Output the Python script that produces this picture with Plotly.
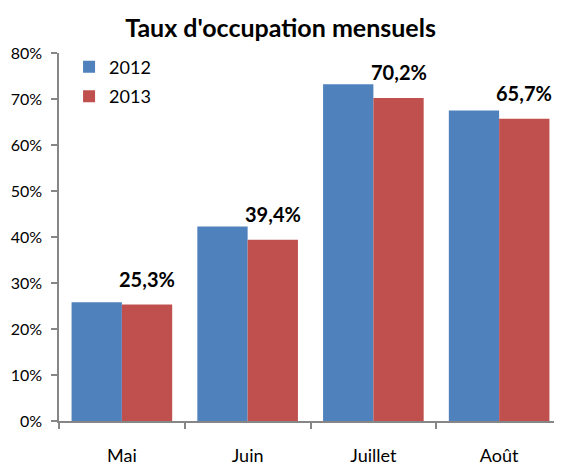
import plotly.graph_objects as go

months = ["Mai", "Juin", "Juillet", "Août"]
series_names = ["2012", "2013"]
values_2012 = [0.258, 0.423, 0.732, 0.675]
values_2013 = [0.253, 0.394, 0.702, 0.657]
y_ticks = [0, 0.1, 0.2, 0.3, 0.4, 0.5, 0.6, 0.7, 0.8]

FONT = "Lato"
fig = go.Figure()
fig.add_trace(go.Bar(x=months, y=values_2012, name=series_names[0], legendgroup="a",
                     marker=dict(color="#4F81BD", line=dict(width=0))))
fig.add_trace(go.Bar(x=months, y=values_2013, name=series_names[1], legendgroup="b",
                     marker=dict(color="#C0504D", line=dict(width=0))))

bargap = 0.2
bar_w = (1 - bargap) / 2
for i, v in enumerate(values_2013):
    fig.add_annotation(x=i + bar_w / 2, y=v, xref="x", yref="y",
                       text="<b>" + f"{v*100:.1f}".replace(".", ",") + "%</b>",
                       showarrow=False, yanchor="bottom", yshift=12,
                       font=dict(family=FONT, size=20, color="black"))

# page body has an 8px margin: figure is sized/offset to compensate
fig.update_layout(
    width=554, height=457,
    margin=dict(l=51, r=0, t=45, b=44),
    paper_bgcolor="white", plot_bgcolor="white",
    barmode="group", bargap=bargap, bargroupgap=0,
    separators=", ",
    title=dict(text="<b>Taux d'occupation mensuels</b>", x=0.492, xanchor="center",
               y=0.955, yanchor="middle",
               font=dict(family=FONT, size=25, color="black")),
    font=dict(family=FONT, size=17, color="black"),
    showlegend=True,
    legend=dict(x=0.02, y=1.012, xanchor="left", yanchor="top",
                bgcolor="rgba(0,0,0,0)", font=dict(family=FONT, size=18),
                traceorder="grouped", tracegroupgap=3),
)
fig.update_xaxes(type="category", showline=True, linecolor="#868686", linewidth=1.5,
                 ticks="outside", tickson="boundaries", ticklen=6,
                 tickcolor="#868686", tickwidth=1.5,
                 showgrid=False, tickfont=dict(family=FONT, size=18), ticklabelstandoff=18)
fig.update_yaxes(range=[0, 0.8], tickvals=y_ticks, tickformat=".0%",
                 showline=True, linecolor="#868686", linewidth=1.5,
                 ticks="outside", ticklen=6, tickcolor="#868686", tickwidth=1.5,
                 showgrid=False, zeroline=False,
                 tickfont=dict(family=FONT, size=16), ticklabelstandoff=6)

fig.write_html("out.html")
